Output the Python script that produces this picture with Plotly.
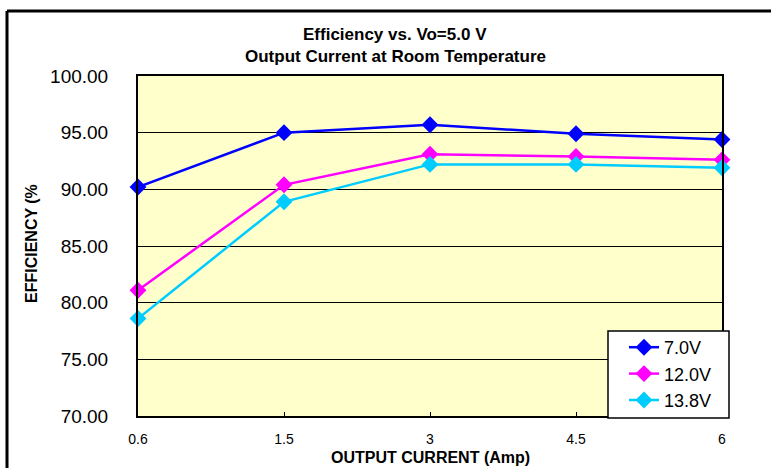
import plotly.graph_objects as go

currents = ["0.6", "1.5", "3", "4.5", "6"]
eff_7v0 = [90.2, 95.0, 95.7, 94.9, 94.4]
eff_12v0 = [81.1, 90.4, 93.1, 92.9, 92.6]
eff_13v8 = [78.6, 88.9, 92.2, 92.2, 91.9]

series = [
    ("7.0V", eff_7v0, "#0000FF"),
    ("12.0V", eff_12v0, "#FF00FF"),
    ("13.8V", eff_13v8, "#00CCFF"),
]

W, H = 771, 468
L, R, T, B = 138, 722, 76, 416
pw, ph = R - L, B - T

def px(x):
    return (x - L) / pw

def py(y):
    return (B - y) / ph

FONT = "Liberation Sans, Arial, sans-serif"
xpos = list(range(len(currents)))

fig = go.Figure()
for name, vals, col in series:
    fig.add_trace(go.Scatter(
        x=xpos, y=vals, name=name, mode="lines+markers",
        line=dict(color=col, width=2.5),
        marker=dict(symbol="diamond", size=13, color=col),
        cliponaxis=False,
    ))

def note(text, x, y, size, angle=0):
    return dict(text=text, x=px(x), y=py(y), xref="paper", yref="paper",
                xanchor="center", yanchor="middle", showarrow=False,
                textangle=angle, font=dict(size=size))

def seg(x0, y0, x1, y1):
    return dict(type="line", xref="paper", yref="paper",
                x0=px(x0), y0=py(y0), x1=px(x1), y1=py(y1),
                line=dict(color="black", width=3))

fig.update_layout(
    width=W, height=H,
    margin=dict(l=L, r=W - R, t=T, b=H - B, pad=0),
    paper_bgcolor="white",
    plot_bgcolor="#FFFFCC",
    font=dict(family=FONT, color="black"),
    showlegend=True,
    legend=dict(
        x=px(624), y=py(329), xanchor="left", yanchor="top",
        bgcolor="rgba(0,0,0,0)", borderwidth=0,
        font=dict(size=18, family=FONT),
    ),
    xaxis=dict(
        range=[0, len(currents) - 1],
        tickmode="array", tickvals=xpos, ticktext=currents,
        showgrid=False, zeroline=False,
        ticks="inside", ticklen=4, tickcolor="black",
        showline=True, linecolor="black", linewidth=2, mirror=True,
        tickfont=dict(size=14),
        ticklabelstandoff=9,
    ),
    yaxis=dict(
        range=[70, 100], dtick=5, tickformat=".2f",
        showgrid=True, gridcolor="black", gridwidth=1,
        zeroline=False, ticks="",
        showline=True, linecolor="black", linewidth=2, mirror=True,
        tickfont=dict(size=19),
        ticklabelstandoff=24,
    ),
    annotations=[
        note("<b>Efficiency vs. Vo=5.0 V</b>", 395, 35, 17),
        note("<b>Output Current at Room Temperature</b>", 395, 57, 17),
        note("<b>OUTPUT CURRENT (Amp)</b>", 430, 457, 16),
        note("<b>EFFICIENCY (%</b>", 31, 244, 16, -90),
    ],
    shapes=[
        seg(7, 11, 790, 11),
        seg(7, 11, 7, 480),
        dict(type="rect", xref="paper", yref="paper", layer="above",
             x0=px(608), y0=py(418), x1=px(729), y1=py(331),
             fillcolor="white", line=dict(color="black", width=1.5)),
    ],
)

fig.write_html(
    "out.html",
    config={"displayModeBar": False},
    post_script=(
        "document.documentElement.style.overflow='hidden';"
        "document.body.style.margin='0';document.body.style.overflow='hidden';"
    ),
)
